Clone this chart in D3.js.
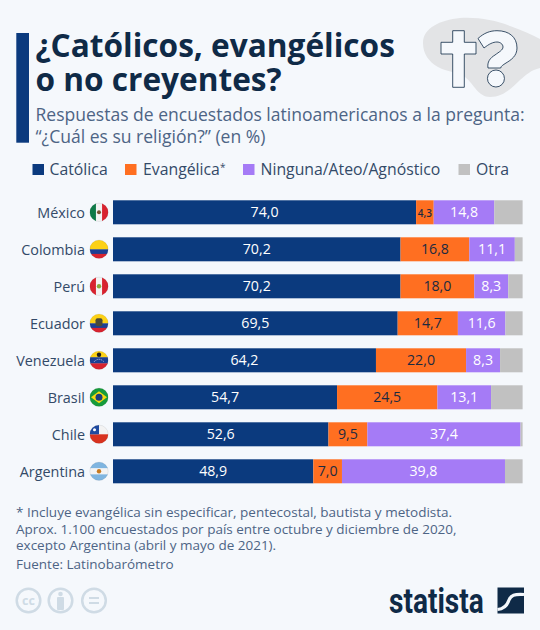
<!DOCTYPE html>
<html><head><meta charset="utf-8">
<script src="https://cdn.jsdelivr.net/npm/d3@7"></script>
<style>html,body{margin:0;padding:0;background:#f5f8fc}svg{display:block}text{font-family:"Open Sans",sans-serif}</style>
</head><body><svg id="c" width="540" height="630"></svg>
<script>
const countries=["México","Colombia","Perú","Ecuador","Venezuela","Brasil","Chile","Argentina"];
const catolica=[74.0,70.2,70.2,69.5,64.2,54.7,52.6,48.9];
const evangelica=[4.3,16.8,18.0,14.7,22.0,24.5,9.5,7.0];
const ninguna=[14.8,11.1,8.3,11.6,8.3,13.1,37.4,39.8];
const otra=[6.9,1.9,3.5,4.2,5.5,7.7,0.5,4.3];
const seriesNames=["Católica","Evangélica","Ninguna/Ateo/Agnóstico","Otra"];
const seriesColors=["#0b3a7e","#ff6f21","#a57bf6","#c1c1c1"];
const labelColors=["#ffffff","#1c2a40","#ffffff",null];
const titleLines=["¿Católicos, evangélicos","o no creyentes?"];
const subtitleLines=["Respuestas de encuestados latinoamericanos a la pregunta:","“¿Cuál es su religión?” (en %)"];
const footLines=["* Incluye evangélica sin especificar, pentecostal, bautista y metodista.","Aprox. 1.100 encuestados por país entre octubre y diciembre de 2020,","excepto Argentina (abril y mayo de 2021)."];
const source="Fuente: Latinobarómetro";

const svg=d3.select("#c");
const fmt=v=>v.toFixed(1).replace(".",",");
const x=d3.scaleLinear().domain([0,100]).range([113,522.6]);
const y=d3.scaleBand().domain(countries).range([193.8,489.8]).paddingInner(13/37).paddingOuter(6.5/37);
const bandTop=i=>y(countries[i]);
const ink="#0f2a47", bg="#f5f8fc";

// header
svg.append("rect").attr("x",16.3).attr("y",33).attr("width",12.7).attr("height",109.7).attr("fill","#0b3a7e");
svg.append("path").attr("d","M423 43C423 28 440 20 460 18C478 17 495 20 510 26C522 30 532 35 540 39V68C531 70 526 75 520 80C512 88 503 97 490 97C478 97 474 84 465 77C458 72 447 72 438 67C429 62 423 54 423 43Z").attr("fill","#e3e4e6");
svg.append("path").attr("d","M452.700 30.700H464.300V42.300H476V54H464.300V87.300H452.700V54H441V42.300H452.700Z").attr("fill",bg).attr("stroke",ink).attr("stroke-width",1).attr("stroke-opacity",.8);
svg.append("path").attr("d","M478 38.500C484 33 490 30.700 497 30.700C509 30.700 517 37 517 48C517 56 511 60 506 63C503 65 501 66 500.700 68H488C487 62 490 58 495 55C499 52 503 50 503 47C503 44 500 42 497 42C493 42 489 44 484 48ZM496 70A8.500 8.500 0 1 1 495.900 87A8.500 8.500 0 1 1 496 70Z").attr("fill",bg).attr("stroke",ink).attr("stroke-width",1).attr("stroke-opacity",.8);

svg.selectAll("text.t").data(titleLines).join("text").attr("class","t").attr("x",35.500).attr("y",(d,i)=>56.700+i*34)
 .attr("font-size",31.6).attr("font-weight",700).attr("fill",ink).text(d=>d);
svg.selectAll("text.s").data(subtitleLines).join("text").attr("class","s").attr("x",35.500).attr("y",(d,i)=>121+i*21.800)
 .attr("font-size",17.55).attr("fill","#4d6485").text(d=>d);

// legend
const legX=[32.500,125,243,458.500], legT=[49.500,143,260.500,476];
seriesNames.forEach((n,i)=>{
 svg.append("rect").attr("x",legX[i]).attr("y",164).attr("width",11.500).attr("height",11).attr("fill",seriesColors[i]);
 const t=svg.append("text").attr("x",legT[i]).attr("y",175).attr("font-size",15.8).attr("fill","#334a68").text(n);
 if(i===1) t.append("tspan").attr("font-size",10).attr("dy",-4).text("*");
});

// bars
const cols=[catolica,evangelica,ninguna,otra];
const stack=d3.stack().keys([0,1,2,3]).value((d,k)=>cols[k][d]);
const layers=stack(countries.map((_,i)=>i));
layers.forEach((layer,k)=>{
 const g=svg.append("g");
 g.selectAll("rect").data(layer).join("rect")
  .attr("x",d=>x(d[0])).attr("width",d=>x(d[1])-x(d[0]))
  .attr("y",(d,i)=>bandTop(i)).attr("height",y.bandwidth()).attr("fill",seriesColors[k]);
 if(labelColors[k]) g.selectAll("text").data(layer).join("text")
  .attr("x",d=>(x(d[0])+x(d[1]))/2).attr("y",(d,i)=>bandTop(i)+17)
  .attr("text-anchor","middle").attr("fill",labelColors[k])
  .attr("font-size",d=>(d[1]-d[0])<5?10:14.2).attr("font-weight",d=>(d[1]-d[0])<5?600:500)
  .text(d=>fmt(d[1]-d[0]));
});
svg.selectAll("text.c").data(countries).join("text").attr("class","c").attr("x",85).attr("y",(d,i)=>bandTop(i)+17.500)
 .attr("text-anchor","end").attr("font-size",14.4).attr("fill","#334a68").text(d=>d);

// flags
const H=(a,b,c)=>({o:"h",a,b,c}),V=(a,b,c)=>({o:"v",a,b,c});
const flags=[
 [V(0,1/3,"#0f7a48"),V(1/3,2/3,"#f3f3f3"),V(2/3,1,"#d8232f")],
 [H(0,.5,"#fcd116"),H(.5,.75,"#1c3f94"),H(.75,1,"#d8232f")],
 [V(0,1/3,"#d8232f"),V(1/3,2/3,"#f3f3f3"),V(2/3,1,"#d8232f")],
 [H(0,.5,"#fcd116"),H(.5,.75,"#1c3f94"),H(.75,1,"#d8232f")],
 [H(0,1/3,"#fcd116"),H(1/3,2/3,"#1c3f94"),H(2/3,1,"#d8232f")],
 [H(0,1,"#169b3b")],
 [H(0,.5,"#f3f3f3"),H(.5,1,"#d8321f")],
 [H(0,1/3,"#7fb5e0"),H(1/3,2/3,"#f3f3f3"),H(2/3,1,"#7fb5e0")]
];
const defs=svg.append("defs");
const fy=i=>bandTop(i)+12, fx=99, fr=9.2;
countries.forEach((c,i)=>{
 defs.append("clipPath").attr("id","f"+i).append("circle").attr("cx",fx).attr("cy",fy(i)).attr("r",fr);
 const g=svg.append("g").attr("clip-path",`url(#f${i})`);
 flags[i].forEach(b=>{
  const s=2*fr;
  if(b.o==="h") g.append("rect").attr("x",fx-fr).attr("width",s).attr("y",fy(i)-fr+b.a*s).attr("height",(b.b-b.a)*s+.3).attr("fill",b.c);
  else g.append("rect").attr("y",fy(i)-fr).attr("height",s).attr("x",fx-fr+b.a*s).attr("width",(b.b-b.a)*s+.3).attr("fill",b.c);
 });
 const dot=(dx,dy,r,col)=>g.append("circle").attr("cx",fx+dx).attr("cy",fy(i)+dy).attr("r",r).attr("fill",col);
 if(i===0) dot(0,0,2,"#7a5230");
 if(i===2) dot(0,0,2.200,"#8aa83c");
 if(i===3) g.append("rect").attr("x",fx-3.500).attr("y",fy(i)-5).attr("width",7).attr("height",8).attr("rx",2).attr("fill","#4a4a38");
 if(i===4){dot(0,-5.500,2.200,"#1d1d1d");g.append("path").attr("d",`M${fx-5} ${fy(i)+1.500}Q${fx} ${fy(i)-3.500} ${fx+5} ${fy(i)+1.500}`).attr("fill","none").attr("stroke","#eef").attr("stroke-width",.8).attr("stroke-dasharray","1 1");}
 if(i===5){g.append("path").attr("d",`M${fx-8} ${fy(i)}L${fx} ${fy(i)-6}L${fx+8} ${fy(i)}L${fx} ${fy(i)+6}Z`).attr("fill","#f8d90f");dot(0,0,3.500,"#1c3f7c");}
 if(i===6){g.append("rect").attr("x",fx-fr).attr("y",fy(i)-fr).attr("width",fr).attr("height",fr).attr("fill","#1f4aa0");dot(-4.500,-4.500,1.500,"#fff");}
 if(i===7) dot(0,0,2.200,"#c77a20");
 svg.append("circle").attr("cx",fx).attr("cy",fy(i)).attr("r",fr).attr("fill","none").attr("stroke","#000").attr("stroke-opacity",.12).attr("stroke-width",.6);
});

// footer
svg.selectAll("text.f").data(footLines).join("text").attr("class","f").attr("x",16).attr("y",(d,i)=>517.3+i*16.300)
 .attr("font-size",13.5).attr("fill","#4d6485").text(d=>d);
svg.append("text").attr("x",16).attr("y",568.7).attr("font-size",13.5).attr("fill","#4d6485").text(source);

// licence icons
const ic="#cfdbe5";
[28.500,60.500,94].forEach(cx=>svg.append("circle").attr("cx",cx).attr("cy",600.500).attr("r",11.800).attr("fill","none").attr("stroke",ic).attr("stroke-width",2.500));
svg.append("text").attr("x",28.500).attr("y",604.800).attr("text-anchor","middle").attr("font-size",12.500).attr("font-weight",700).attr("fill",ic).text("cc");
svg.append("circle").attr("cx",60.500).attr("cy",594).attr("r",2.300).attr("fill",ic);
svg.append("rect").attr("x",57).attr("y",597).attr("width",7).attr("height",13).attr("rx",1).attr("fill",ic);
svg.append("rect").attr("x",89).attr("y",597).attr("width",10).attr("height",2).attr("fill",ic);
svg.append("rect").attr("x",89).attr("y",602).attr("width",10).attr("height",2).attr("fill",ic);

// logo
svg.append("text").attr("transform","translate(389,612.500) scale(.78,1)")
 .attr("font-size",36).attr("font-weight",700).style("font-family","Roboto").attr("fill",ink).text("statista");
svg.append("rect").attr("x",497.500).attr("y",587.500).attr("width",26.500).attr("height",26).attr("fill",ink);
svg.append("path").attr("d","M524 594.500C514 594 511 595 509 600C507 606 503 609 497.500 609.500").attr("fill","none").attr("stroke",bg).attr("stroke-width",3.200);
</script></body></html>
